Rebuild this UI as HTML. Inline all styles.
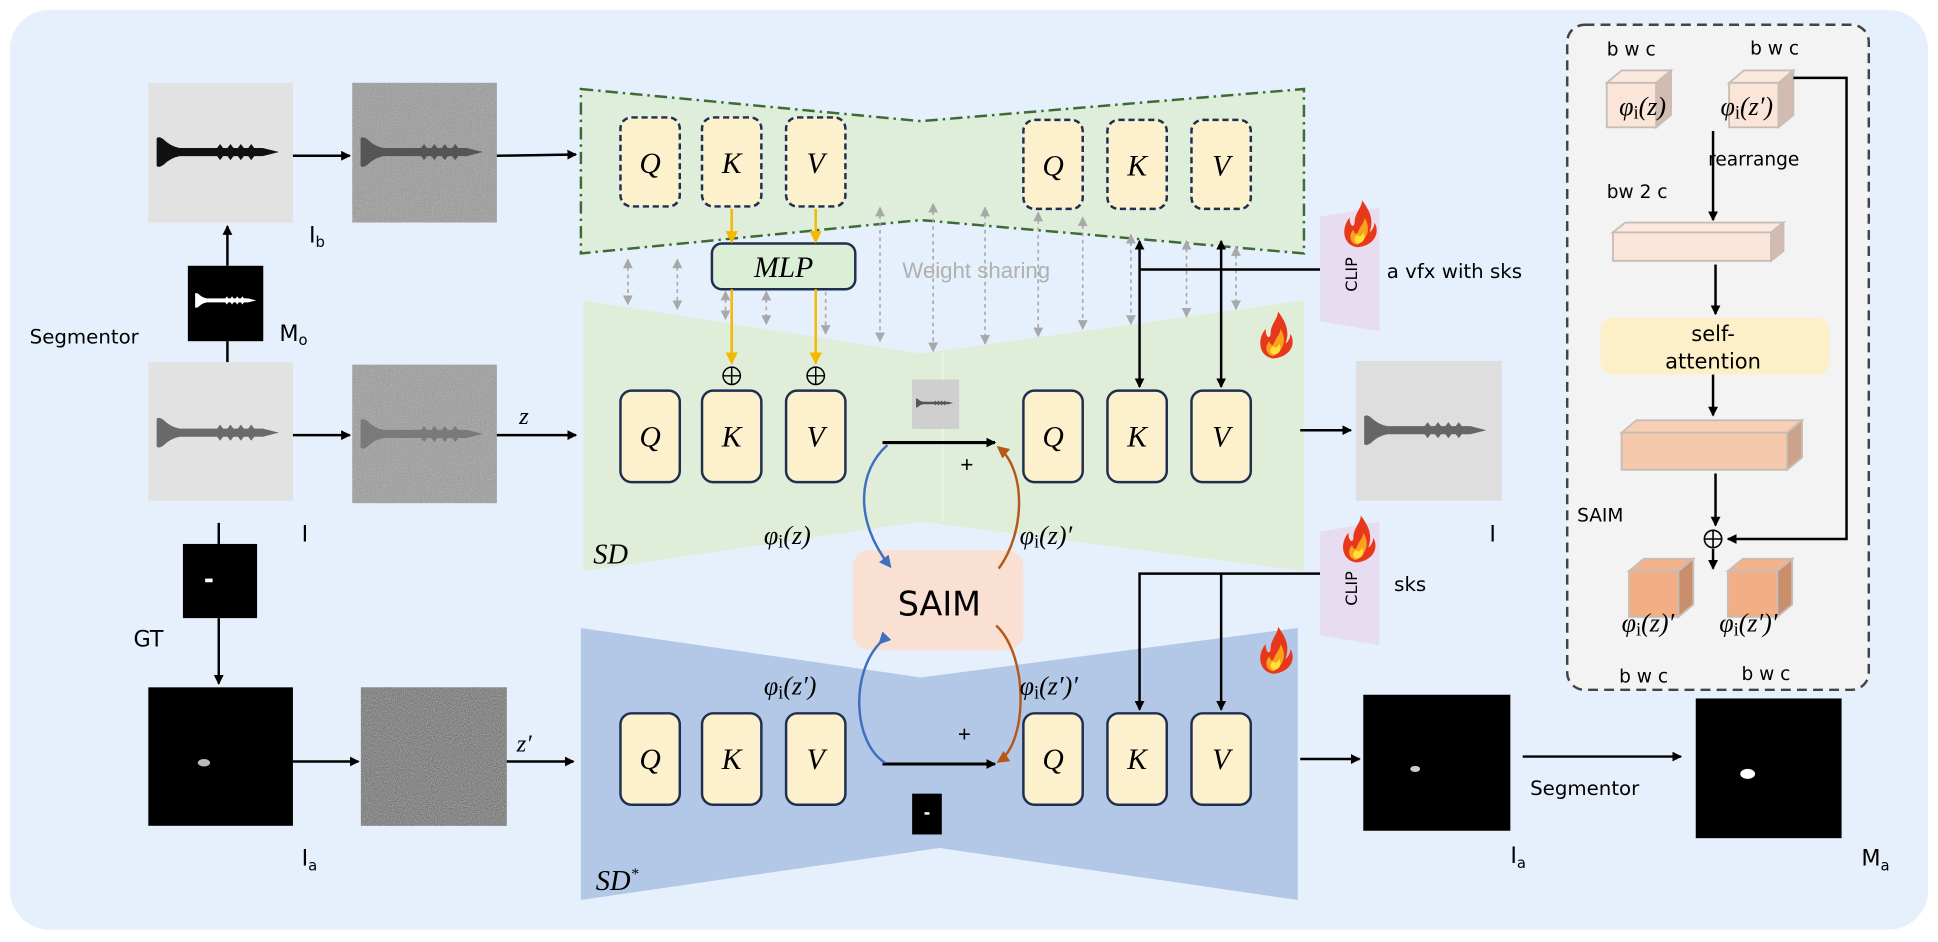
<!DOCTYPE html>
<html><head><meta charset="utf-8"><style>
html,body{margin:0;padding:0;background:#fff;}
svg{display:block}
.c{font-family:"DejaVu Sans","Liberation Sans",sans-serif;}
.m{font-family:"Liberation Serif",serif;font-style:italic;}
</style></head><body>
<svg width="1938" height="942" viewBox="0 0 1568 762" preserveAspectRatio="none" xmlns="http://www.w3.org/2000/svg">
<defs>
<marker id="ab" markerWidth="8" markerHeight="8" refX="7" refY="4" orient="auto" markerUnits="userSpaceOnUse"><path d="M0,0 L8,4 L0,8z" fill="#000"/></marker>
<marker id="abs" markerWidth="8" markerHeight="8" refX="1" refY="4" orient="auto" markerUnits="userSpaceOnUse"><path d="M8,0 L0,4 L8,8z" fill="#000"/></marker>
<marker id="ao" markerWidth="10" markerHeight="10" refX="9" refY="5" orient="auto" markerUnits="userSpaceOnUse"><path d="M0,0 L10,5 L0,10z" fill="#f5b800"/></marker>
<marker id="ag" markerWidth="8" markerHeight="8" refX="7" refY="4" orient="auto" markerUnits="userSpaceOnUse"><path d="M0,0 L8,4 L0,8z" fill="#a8a8a8"/></marker>
<marker id="agS" markerWidth="8" markerHeight="8" refX="1" refY="4" orient="auto" markerUnits="userSpaceOnUse"><path d="M8,0 L0,4 L8,8z" fill="#a8a8a8"/></marker>
<marker id="abl" markerWidth="10" markerHeight="10" refX="8" refY="5" orient="auto" markerUnits="userSpaceOnUse"><path d="M0,0 L10,5 L0,10z" fill="#3f6fbf"/></marker>
<marker id="abr" markerWidth="10" markerHeight="10" refX="8" refY="5" orient="auto" markerUnits="userSpaceOnUse"><path d="M0,0 L10,5 L0,10z" fill="#b5591a"/></marker>
<filter id="nz" x="0" y="0" width="100%" height="100%"><feTurbulence type="fractalNoise" baseFrequency="0.9" numOctaves="2" seed="3"/><feColorMatrix type="saturate" values="0"/><feComponentTransfer><feFuncA type="table" tableValues="0 0.5"/></feComponentTransfer><feComposite in2="SourceGraphic" operator="in"/></filter>
<filter id="nz2" x="0" y="0" width="100%" height="100%"><feTurbulence type="fractalNoise" baseFrequency="1.2" numOctaves="2" seed="5"/><feColorMatrix type="saturate" values="0"/><feComponentTransfer><feFuncA type="table" tableValues="0 0.9"/></feComponentTransfer><feComposite in2="SourceGraphic" operator="in"/></filter>
<symbol id="screw" viewBox="0 0 120 40"><path d="M4,8 Q6,6 10,9 Q16,15 24,16.5 L96,16.5 L110,20 L96,23.5 L24,23.5 Q16,25 10,31 Q6,34 4,32 Z"/><path d="M56,17 l3,-4 l3,4 M65,17 l3,-4 l3,4 M74,17 l3,-4 l3,4 M83,17 l3,-4 l3,4 M56,23 l3,4 l3,-4 M65,23 l3,4 l3,-4 M74,23 l3,4 l3,-4 M83,23 l3,4 l3,-4"/></symbol>
<g id="fire"><path d="M0,0 C-12,-2 -13,-16 -6,-24 C-6,-16 -2,-16 -2,-20 C-2,-28 4,-32 4,-38 C10,-30 14,-22 10,-12 C13,-14 14,-18 14,-20 C19,-12 14,-1 0,0Z" fill="#e8381b"/><path d="M0,-2 C-6,-3 -7,-10 -3,-14 C-2,-10 0,-10 1,-13 C3,-18 6,-20 6,-24 C10,-18 11,-8 0,-2Z" fill="#f9a21b"/><path d="M1,-3 C-3,-4 -3,-8 0,-10 C2,-8 4,-9 5,-12 C7,-8 6,-4 1,-3Z" fill="#ffe13a"/></g>
</defs>

<rect x="8" y="8" width="1552" height="744" rx="32" fill="#e6effc"/>

<!-- Left images -->
<rect x="120" y="67" width="117" height="113" fill="#e2e2e2"/>
<use href="#screw" x="123" y="103" width="112" height="40" fill="#111"/>
<rect x="285" y="67" width="117" height="113" fill="#9a9a9a"/>
<rect x="285" y="67" width="117" height="113" fill="#fff" filter="url(#nz)"/>
<use href="#screw" x="288" y="103" width="112" height="40" fill="#555"/>
<line x1="237" y1="126" x2="283" y2="126" stroke="#000" stroke-width="2" marker-end="url(#ab)"/>
<line x1="402" y1="126" x2="466" y2="125" stroke="#000" stroke-width="2" marker-end="url(#ab)"/>
<text x="250" y="196" class="c" font-size="18">I<tspan font-size="12" dy="4">b</tspan></text>

<rect x="152" y="215" width="61" height="61" fill="#000"/>
<use href="#screw" x="156" y="232" width="56" height="22" fill="#fff"/>
<line x1="184" y1="293" x2="184" y2="276" stroke="#000" stroke-width="2"/>
<line x1="184" y1="215" x2="184" y2="183" stroke="#000" stroke-width="2" marker-end="url(#ab)"/>
<text x="24" y="278" class="c" font-size="16">Segmentor</text>
<text x="226" y="276" class="c" font-size="18">M<tspan font-size="12" dy="3">o</tspan></text>

<rect x="120" y="293" width="117" height="112" fill="#e2e2e2"/>
<use href="#screw" x="123" y="330" width="112" height="40" fill="#6a6a6a"/>
<rect x="285" y="295" width="117" height="112" fill="#9c9c9c"/>
<rect x="285" y="295" width="117" height="112" fill="#fff" filter="url(#nz)"/>
<use href="#screw" x="288" y="331" width="112" height="40" fill="#7a7a7a"/>
<line x1="237" y1="352" x2="283" y2="352" stroke="#000" stroke-width="2" marker-end="url(#ab)"/>
<line x1="402" y1="352" x2="466" y2="352" stroke="#000" stroke-width="2" marker-end="url(#ab)"/>
<text x="420" y="343" class="m" font-size="20">z</text>
<text x="244" y="438" class="c" font-size="18">I</text>

<line x1="177" y1="423" x2="177" y2="440" stroke="#000" stroke-width="2"/>
<rect x="148" y="440" width="60" height="60" fill="#000"/>
<rect x="166" y="468" width="6" height="3" fill="#fff"/>
<line x1="177" y1="500" x2="177" y2="553" stroke="#000" stroke-width="2" marker-end="url(#ab)"/>
<text x="108" y="523" class="c" font-size="18">GT</text>

<rect x="120" y="556" width="117" height="112" fill="#000"/>
<ellipse cx="165" cy="617" rx="5" ry="3" fill="#bbb"/>
<rect x="292" y="556" width="118" height="112" fill="#606060"/>
<rect x="292" y="556" width="118" height="112" fill="#fff" filter="url(#nz2)"/>
<line x1="237" y1="616" x2="290" y2="616" stroke="#000" stroke-width="2" marker-end="url(#ab)"/>
<line x1="410" y1="616" x2="464" y2="616" stroke="#000" stroke-width="2" marker-end="url(#ab)"/>
<text x="418" y="608" class="m" font-size="20">z′</text>
<text x="244" y="700" class="c" font-size="18">I<tspan font-size="12" dy="4">a</tspan></text>

<!-- Trapezoids -->
<polygon points="472,243 745,286 1055,243 1055,462 745,422 472,462" fill="#e0eed9"/>
<line x1="763" y1="286" x2="763" y2="422" stroke="#eef5ea" stroke-width="1"/>
<polygon points="470,508 745,548 1050,508 1050,728 760,686 470,728" fill="#b3c8e7"/>
<polygon points="470,72 745,98 1055,72 1055,205 745,178 470,205" fill="#dfeeda" stroke="#3e6b33" stroke-width="2" stroke-dasharray="10,4,2,4"/>

<!-- QKV boxes -->
<g font-size="24" class="m" text-anchor="middle">
<g fill="#fdf1cd" stroke="#1f2f4f" stroke-width="2" stroke-dasharray="5,3">
<rect x="502" y="95" width="48" height="72" rx="9"/><rect x="568" y="95" width="48" height="72" rx="9"/><rect x="636" y="95" width="48" height="72" rx="9"/>
<rect x="828" y="97" width="48" height="72" rx="9"/><rect x="896" y="97" width="48" height="72" rx="9"/><rect x="964" y="97" width="48" height="72" rx="9"/>
</g>
<g fill="#fdf1cd" stroke="#1f2f4f" stroke-width="2">
<rect x="502" y="316" width="48" height="74" rx="9"/><rect x="568" y="316" width="48" height="74" rx="9"/><rect x="636" y="316" width="48" height="74" rx="9"/>
<rect x="828" y="316" width="48" height="74" rx="9"/><rect x="896" y="316" width="48" height="74" rx="9"/><rect x="964" y="316" width="48" height="74" rx="9"/>
<rect x="502" y="577" width="48" height="74" rx="9"/><rect x="568" y="577" width="48" height="74" rx="9"/><rect x="636" y="577" width="48" height="74" rx="9"/>
<rect x="828" y="577" width="48" height="74" rx="9"/><rect x="896" y="577" width="48" height="74" rx="9"/><rect x="964" y="577" width="48" height="74" rx="9"/>
</g>
<text x="526" y="140">Q</text><text x="592" y="140">K</text><text x="660" y="140">V</text>
<text x="852" y="142">Q</text><text x="920" y="142">K</text><text x="988" y="142">V</text>
<text x="526" y="361">Q</text><text x="592" y="361">K</text><text x="660" y="361">V</text>
<text x="852" y="361">Q</text><text x="920" y="361">K</text><text x="988" y="361">V</text>
<text x="526" y="622">Q</text><text x="592" y="622">K</text><text x="660" y="622">V</text>
<text x="852" y="622">Q</text><text x="920" y="622">K</text><text x="988" y="622">V</text>
</g>

<!-- gray weight sharing arrows -->
<g stroke="#a8a8a8" stroke-width="1.3" stroke-dasharray="3,3" marker-end="url(#ag)" marker-start="url(#agS)">
<line x1="508" y1="210" x2="508" y2="246"/><line x1="548" y1="210" x2="548" y2="250"/>
<line x1="587" y1="236" x2="587" y2="258"/><line x1="620" y1="236" x2="620" y2="262"/>
<line x1="668" y1="212" x2="668" y2="270"/><line x1="712" y1="168" x2="712" y2="276"/>
<line x1="755" y1="165" x2="755" y2="284"/><line x1="797" y1="168" x2="797" y2="278"/>
<line x1="840" y1="172" x2="840" y2="272"/><line x1="876" y1="176" x2="876" y2="266"/>
<line x1="915" y1="190" x2="915" y2="262"/><line x1="960" y1="195" x2="960" y2="256"/>
<line x1="1000" y1="200" x2="1000" y2="250"/>
</g>
<text x="730" y="225" font-family="Liberation Sans,sans-serif" font-size="18" fill="#b0b0b0">Weight sharing</text>

<!-- MLP -->
<rect x="576" y="197" width="116" height="37" rx="8" fill="#dbeed6" stroke="#1f2f4f" stroke-width="2"/>
<text x="634" y="224" class="m" font-size="24" text-anchor="middle">MLP</text>
<g stroke="#f5b800" stroke-width="2">
<line x1="592" y1="169" x2="592" y2="196" marker-end="url(#ao)"/>
<line x1="660" y1="169" x2="660" y2="196" marker-end="url(#ao)"/>
<line x1="592" y1="234" x2="592" y2="294" marker-end="url(#ao)"/>
<line x1="660" y1="234" x2="660" y2="294" marker-end="url(#ao)"/>
</g>
<g fill="none" stroke="#000" stroke-width="1.2">
<circle cx="592" cy="304" r="7"/><path d="M585,304h14M592,297v14"/>
<circle cx="660" cy="304" r="7"/><path d="M653,304h14M660,297v14"/>
</g>

<!-- middle features -->
<rect x="738" y="307" width="38" height="40" fill="#cfcfcf"/>
<use href="#screw" x="740" y="320" width="34" height="12" fill="#555"/>
<line x1="714" y1="358" x2="805" y2="358" stroke="#000" stroke-width="2.5" marker-end="url(#ab)"/>
<text x="777" y="382" font-family="Liberation Sans,sans-serif" font-size="18">+</text>
<rect x="738" y="642" width="24" height="33" fill="#000"/><rect x="748" y="657" width="4" height="2" fill="#fff"/>
<line x1="714" y1="618" x2="805" y2="618" stroke="#000" stroke-width="2.5" marker-end="url(#ab)"/>
<text x="775" y="600" font-family="Liberation Sans,sans-serif" font-size="18">+</text>

<!-- SAIM -->
<rect x="690" y="445" width="138" height="81" rx="14" fill="#f9e0d2"/>
<text x="760" y="498" class="c" font-size="27" text-anchor="middle">SAIM</text>
<path d="M718,360 C695,380 690,420 720,458" fill="none" stroke="#3f6fbf" stroke-width="2" marker-end="url(#abl)"/>
<path d="M712,520 C688,545 690,600 716,617" fill="none" stroke="#3f6fbf" stroke-width="2" marker-start="url(#abl)"/>
<path d="M808,460 C830,430 830,380 808,362" fill="none" stroke="#b5591a" stroke-width="2" marker-end="url(#abr)"/>
<path d="M806,506 C832,530 832,600 808,616" fill="none" stroke="#b5591a" stroke-width="2" marker-end="url(#abr)"/>
<g class="m" font-size="21">
<text x="618" y="440">φ<tspan font-style="normal" font-size="15" dy="3">i</tspan><tspan dy="-3">(z)</tspan></text>
<text x="825" y="440">φ<tspan font-style="normal" font-size="15" dy="3">i</tspan><tspan dy="-3">(z)′</tspan></text>
<text x="618" y="562">φ<tspan font-style="normal" font-size="15" dy="3">i</tspan><tspan dy="-3">(z′)</tspan></text>
<text x="825" y="562">φ<tspan font-style="normal" font-size="15" dy="3">i</tspan><tspan dy="-3">(z′)′</tspan></text>
<text x="480" y="456" font-size="23">SD</text>
<text x="482" y="720" font-size="23">SD<tspan font-size="13" dy="-9">*</tspan></text>
</g>

<!-- CLIP -->
<polygon points="1068,175 1116,168 1116,268 1068,260" fill="#e8dcf1"/>
<polygon points="1068,430 1116,422 1116,522 1068,514" fill="#e8dcf1"/>
<text transform="translate(1098,222) rotate(-90)" class="c" font-size="13" text-anchor="middle">CLIP</text>
<text transform="translate(1098,476) rotate(-90)" class="c" font-size="13" text-anchor="middle">CLIP</text>
<use href="#fire" x="1098" y="200"/>
<use href="#fire" x="1097" y="455"/>
<use href="#fire" x="1030" y="290"/>
<use href="#fire" x="1030" y="545"/>
<text x="1122" y="225" class="c" font-size="16">a vfx with sks</text>
<text x="1128" y="478" class="c" font-size="16">sks</text>

<!-- CLIP connections -->
<g stroke="#000" stroke-width="2" fill="none">
<line x1="1068" y1="218" x2="922" y2="218"/>
<line x1="922" y1="195" x2="922" y2="313" marker-end="url(#ab)" marker-start="url(#abs)"/>
<line x1="988" y1="195" x2="988" y2="313" marker-end="url(#ab)" marker-start="url(#abs)"/>
<path d="M1068,464 L922,464 L922,574" marker-end="url(#ab)"/>
<path d="M988,464 L988,574" marker-end="url(#ab)"/>
</g>

<!-- outputs -->
<line x1="1052" y1="348" x2="1093" y2="348" stroke="#000" stroke-width="2" marker-end="url(#ab)"/>
<rect x="1097" y="292" width="118" height="113" fill="#dedede"/>
<use href="#screw" x="1100" y="328" width="112" height="40" fill="#666"/>
<text x="1205" y="438" class="c" font-size="18">I</text>
<line x1="1052" y1="614" x2="1100" y2="614" stroke="#000" stroke-width="2" marker-end="url(#ab)"/>
<rect x="1103" y="562" width="119" height="110" fill="#000"/><ellipse cx="1145" cy="622" rx="4" ry="2.5" fill="#ccc"/>
<text x="1222" y="698" class="c" font-size="18">I<tspan font-size="12" dy="4">a</tspan></text>
<line x1="1232" y1="612" x2="1360" y2="612" stroke="#000" stroke-width="2" marker-end="url(#ab)"/>
<text x="1238" y="643" class="c" font-size="16">Segmentor</text>
<rect x="1372" y="565" width="118" height="113" fill="#000"/><ellipse cx="1414" cy="626" rx="6" ry="4" fill="#fff"/>
<text x="1506" y="700" class="c" font-size="18">M<tspan font-size="12" dy="4">a</tspan></text>

<!-- SAIM panel -->
<rect x="1268" y="20" width="244" height="538" rx="14" fill="#f3f3f3" stroke="#444" stroke-width="2" stroke-dasharray="8,5"/>
<g class="c" font-size="15">
<text x="1300" y="45">b w c</text><text x="1416" y="44">b w c</text>
<text x="1300" y="160">bw 2 c</text>
<text x="1276" y="422">SAIM</text>
<text x="1310" y="552">b w c</text><text x="1409" y="550">b w c</text>
<text x="1382" y="134">rearrange</text>
</g>
<!-- cubes -->
<g stroke="#c8bdb5" stroke-width="1.5">
<path d="M1300,67 l12,-10 h40 l-12,10z" fill="#fbe9e0"/><rect x="1300" y="67" width="40" height="36" fill="#fbe5d8"/><path d="M1340,67 l12,-10 v36 l-12,10z" fill="#d2bcb0"/>
<path d="M1399,67 l12,-10 h40 l-12,10z" fill="#fbe9e0"/><rect x="1399" y="67" width="40" height="36" fill="#fbe5d8"/><path d="M1439,67 l12,-10 v36 l-12,10z" fill="#d2bcb0"/>
<path d="M1305,188 l10,-8 h128 l-10,8z" fill="#fbe9e0"/><rect x="1305" y="188" width="128" height="23" fill="#fbe5d8"/><path d="M1433,188 l10,-8 v23 l-10,8z" fill="#d2bcb0"/>
<path d="M1312,350 l12,-10 h134 l-12,10z" fill="#f7cfb5"/><rect x="1312" y="350" width="134" height="30" fill="#f6c9ac"/><path d="M1446,350 l12,-10 v30 l-12,10z" fill="#cba28b"/>
<path d="M1318,462 l12,-10 h40 l-12,10z" fill="#f2b28c"/><rect x="1318" y="462" width="40" height="37" fill="#f2ae85"/><path d="M1358,462 l12,-10 v37 l-12,10z" fill="#c98f6d"/>
<path d="M1398,462 l12,-10 h40 l-12,10z" fill="#f2b28c"/><rect x="1398" y="462" width="40" height="37" fill="#f2ae85"/><path d="M1438,462 l12,-10 v37 l-12,10z" fill="#c98f6d"/>
</g>
<rect x="1295" y="257" width="185" height="46" rx="10" fill="#fdf0c8"/>
<text x="1386" y="276" class="c" font-size="17" text-anchor="middle">self-</text>
<text x="1386" y="298" class="c" font-size="17" text-anchor="middle">attention</text>
<g class="m" font-size="21">
<text x="1310" y="93">φ<tspan font-style="normal" font-size="15" dy="3">i</tspan><tspan dy="-3">(z)</tspan></text>
<text x="1392" y="93">φ<tspan font-style="normal" font-size="15" dy="3">i</tspan><tspan dy="-3">(z′)</tspan></text>
<text x="1312" y="511">φ<tspan font-style="normal" font-size="15" dy="3">i</tspan><tspan dy="-3">(z)′</tspan></text>
<text x="1391" y="511">φ<tspan font-style="normal" font-size="15" dy="3">i</tspan><tspan dy="-3">(z′)′</tspan></text>
</g>
<g stroke="#000" stroke-width="2" fill="none">
<line x1="1386" y1="106" x2="1386" y2="178" marker-end="url(#ab)"/>
<line x1="1388" y1="214" x2="1388" y2="254" marker-end="url(#ab)"/>
<line x1="1386" y1="303" x2="1386" y2="336" marker-end="url(#ab)"/>
<line x1="1388" y1="383" x2="1388" y2="425" marker-end="url(#ab)"/>
<line x1="1386" y1="444" x2="1386" y2="460" marker-end="url(#ab)"/>
<path d="M1451,63 H1494 V436 H1398" marker-end="url(#ab)"/>
<circle cx="1386" cy="436" r="7" stroke-width="1.3"/><path d="M1379,436h14M1386,429v14" stroke-width="1.3"/>
</g>
</svg>
</body></html>
